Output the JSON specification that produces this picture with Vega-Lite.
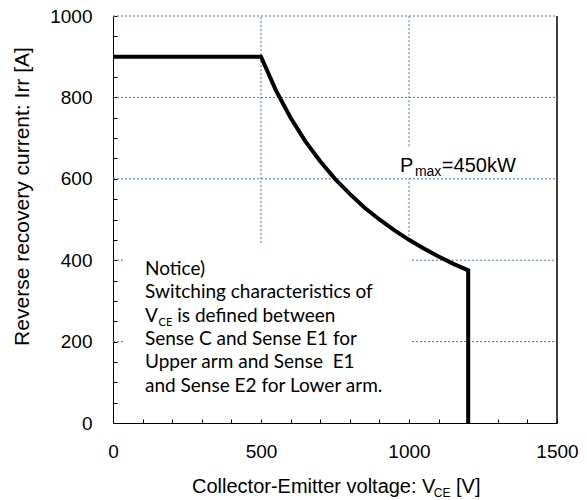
{
  "$schema": "https://vega.github.io/schema/vega-lite/v6.json",
  "width": 444,
  "height": 407,
  "autosize": {"type": "none"},
  "padding": {"left": 113, "top": 16, "right": 30, "bottom": 77},
  "background": "white",
  "config": {"view": {"stroke": null}, "font": "Liberation Sans"},
  "datasets": {
    "grid": [
      {"x": 500, "x2": 500, "y": 442, "y2": 1000},
      {"x": 1000, "x2": 1000, "y": 680, "y2": 1000},
      {"x": 1000, "x2": 1000, "y": 450, "y2": 600},
      {"x": 0, "x2": 1500, "y": 1000, "y2": 1000},
      {"x": 0, "x2": 1500, "y": 800, "y2": 800},
      {"x": 0, "x2": 1500, "y": 600, "y2": 600},
      {"x": 0, "x2": 40, "y": 400, "y2": 400},
      {"x": 1010, "x2": 1500, "y": 400, "y2": 400},
      {"x": 0, "x2": 40, "y": 200, "y2": 200},
      {"x": 1010, "x2": 1500, "y": 200, "y2": 200}
    ],
    "border": [{"x": 1500, "x2": 1500, "y": 0, "y2": 1000}],
    "curve": [
      {"x": 0, "y": 900},
      {"x": 500, "y": 900},
      {"x": 550, "y": 818},
      {"x": 600, "y": 750},
      {"x": 650, "y": 692},
      {"x": 700, "y": 643},
      {"x": 750, "y": 600},
      {"x": 800, "y": 563},
      {"x": 850, "y": 529},
      {"x": 900, "y": 500},
      {"x": 950, "y": 474},
      {"x": 1000, "y": 450},
      {"x": 1050, "y": 429},
      {"x": 1100, "y": 409},
      {"x": 1150, "y": 391},
      {"x": 1200, "y": 375},
      {"x": 1200, "y": 0}
    ],
    "notice": [
      {"x": 108, "y": 364, "text": "Notice)"},
      {"x": 108, "y": 307, "text": "Switching characteristics of"},
      {"x": 108, "y": 248, "text": "V"},
      {"x": 217, "y": 248, "text": "is defined between"},
      {"x": 108, "y": 192, "text": "Sense C and Sense E1 for"},
      {"x": 108, "y": 135, "text": "Upper arm and Sense\u00a0 E1"},
      {"x": 108, "y": 76, "text": "and Sense E2 for Lower arm."}
    ],
    "noticeSub": [{"x": 154, "y": 239, "text": "CE"}],
    "pmax": [
      {"x": 970, "y": 616, "text": "P"},
      {"x": 1111, "y": 616, "text": "=450kW"}
    ],
    "pmaxSub": [{"x": 1020, "y": 607, "text": "max"}],
    "xtitle": [
      {"x": 267, "y": -173, "text": "Collector-Emitter voltage: V"},
      {"x": 1159, "y": -173, "text": "[V]"}
    ],
    "xtitleSub": [{"x": 1084, "y": -181, "text": "CE"}]
  },
  "encoding": {
    "x": {
      "field": "x",
      "type": "quantitative",
      "scale": {"domain": [0, 1500], "nice": false},
      "axis": {
        "values": [0, 100, 200, 300, 400, 500, 600, 700, 800, 900, 1000, 1100, 1200, 1300, 1400, 1500],
        "labelExpr": "datum.value % 500 === 0 ? datum.label : ''",
        "format": "d",
        "grid": false,
        "domainColor": "black",
        "domainWidth": 1,
        "tickColor": "black",
        "tickWidth": 1,
        "tickSize": -4,
        "labelFont": "Liberation Sans",
        "labelFontSize": 19,
        "labelColor": "black",
        "labelPadding": 23,
        "labelFlush": false,
        "labelOverlap": false,
        "title": null
      }
    },
    "y": {
      "field": "y",
      "type": "quantitative",
      "scale": {"domain": [0, 1000], "nice": false},
      "axis": {
        "values": [0, 50, 100, 150, 200, 250, 300, 350, 400, 450, 500, 550, 600, 650, 700, 750, 800, 850, 900, 950, 1000],
        "labelExpr": "datum.value % 200 === 0 ? datum.label : ''",
        "format": "d",
        "grid": false,
        "domainColor": "black",
        "domainWidth": 1,
        "tickColor": "black",
        "tickWidth": 1,
        "tickSize": -4,
        "labelFont": "Liberation Sans",
        "labelFontSize": 19,
        "labelColor": "black",
        "labelPadding": 25,
        "labelFlush": false,
        "labelOverlap": false,
        "title": "Reverse recovery current: Irr [A]",
        "titleFont": "Liberation Sans",
        "titleFontSize": 21,
        "titleFontWeight": "normal",
        "titleColor": "black",
        "titleAngle": -90,
        "titleAlign": "center",
        "titleBaseline": "middle",
        "titleX": -91,
        "titleY": 180
      }
    }
  },
  "layer": [
    {
      "data": {"name": "grid"},
      "mark": {"type": "rule", "color": "#4472C4", "strokeWidth": 1, "strokeDash": [2, 2]},
      "encoding": {"x2": {"field": "x2"}, "y2": {"field": "y2"}}
    },
    {
      "data": {"name": "border"},
      "mark": {"type": "rule", "color": "black", "strokeWidth": 1.5},
      "encoding": {"x2": {"field": "x2"}, "y2": {"field": "y2"}}
    },
    {
      "data": {"name": "curve"},
      "mark": {"type": "line", "color": "black", "strokeWidth": 4, "strokeJoin": "miter", "clip": false},
      "encoding": {"order": {"value": 0}}
    },
    {
      "data": {"name": "notice"},
      "mark": {"type": "text", "align": "left", "baseline": "alphabetic", "font": "Lato", "fontSize": 19, "color": "black"},
      "encoding": {"text": {"field": "text"}}
    },
    {
      "data": {"name": "noticeSub"},
      "mark": {"type": "text", "align": "left", "baseline": "alphabetic", "font": "Lato", "fontSize": 11, "color": "black"},
      "encoding": {"text": {"field": "text"}}
    },
    {
      "data": {"name": "pmax"},
      "mark": {"type": "text", "align": "left", "baseline": "alphabetic", "font": "Liberation Sans", "fontSize": 20, "color": "black"},
      "encoding": {"text": {"field": "text"}}
    },
    {
      "data": {"name": "pmaxSub"},
      "mark": {"type": "text", "align": "left", "baseline": "alphabetic", "font": "Liberation Sans", "fontSize": 14, "color": "black"},
      "encoding": {"text": {"field": "text"}}
    },
    {
      "data": {"name": "xtitle"},
      "mark": {"type": "text", "align": "left", "baseline": "alphabetic", "font": "Liberation Sans", "fontSize": 20, "color": "black"},
      "encoding": {"text": {"field": "text"}}
    },
    {
      "data": {"name": "xtitleSub"},
      "mark": {"type": "text", "align": "left", "baseline": "alphabetic", "font": "Liberation Sans", "fontSize": 12, "color": "black"},
      "encoding": {"text": {"field": "text"}}
    }
  ]
}
